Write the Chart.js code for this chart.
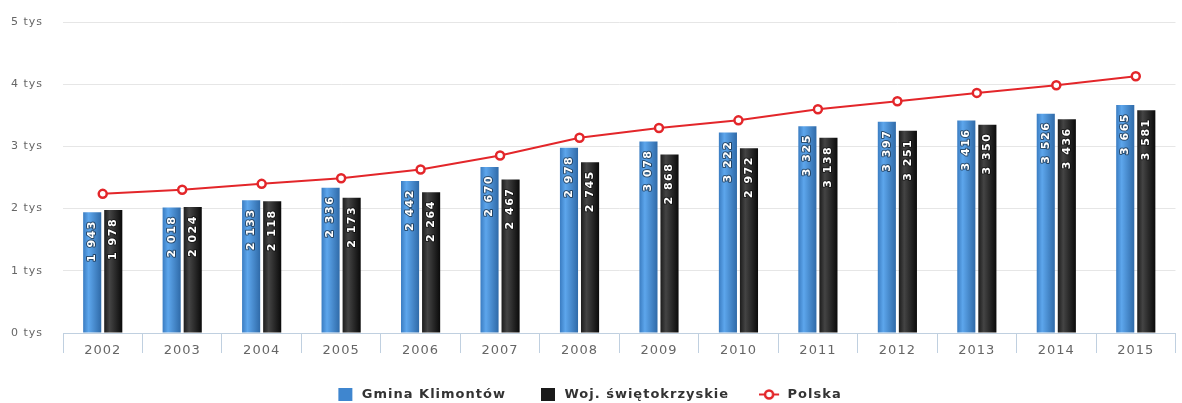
<!DOCTYPE html>
<html>
<head>
<meta charset="utf-8">
<script src="https://cdn.jsdelivr.net/npm/chart.js@4/dist/chart.umd.min.js"></script>
<style>
  html, body { margin: 0; padding: 0; background: #fff; }
  #wrap { width: 1182px; height: 403px; position: relative; }
</style>
</head>
<body>
<div id="wrap"><canvas id="chart"></canvas></div>
<script>
// DATA
const years = ["2002", "2003", "2004", "2005", "2006", "2007", "2008", "2009", "2010", "2011", "2012", "2013", "2014", "2015"];
const gminaKlimontow = [1943, 2018, 2133, 2336, 2442, 2670, 2978, 3078, 3222, 3325, 3397, 3416, 3526, 3665];
const wojSwietokrzyskie = [1978, 2024, 2118, 2173, 2264, 2467, 2745, 2868, 2972, 3138, 3251, 3350, 3436, 3581];
const polska = [2237, 2302, 2398, 2489, 2629, 2855, 3140, 3295, 3419, 3597, 3726, 3860, 3984, 4129];
const seriesNames = ["Gmina Klimontów", "Woj. świętokrzyskie", "Polska"];
const yTicks = [0, 1000, 2000, 3000, 4000, 5000];

const CAT_PCT = 0.53;
const BAR_PCT = 0.86;
const FONT = "'DejaVu Sans', sans-serif";

// bar colours: [edge, highlight, dark edge]
const blueStops = ["#3a7cc1", "#5da6ec", "#2f6aa8"];
const blackStops = ["#1c1c1c", "#444444", "#0a0a0a"];

function fmt(v) {
  return String(v).replace(/\B(?=(\d{3})+(?!\d))/g, " ");
}

// horizontal gradient for each bar, worked out from the category scale
function barFill(c, stops) {
  const chart = c.chart;
  const x = chart.scales.x;
  if (c.type !== "data" || !x || !chart.chartArea) return stops[0];
  const cw = x.width / years.length;
  const slot = cw * CAT_PCT / 2;
  const w = slot * BAR_PCT;
  const center = x.getPixelForValue(c.dataIndex) + (c.datasetIndex === 0 ? -slot / 2 : slot / 2);
  const g = chart.ctx.createLinearGradient(center - w / 2, 0, center + w / 2, 0);
  g.addColorStop(0, stops[0]);
  g.addColorStop(0.3, stops[1]);
  g.addColorStop(1, stops[2]);
  return g;
}

// legend symbols
function squareIcon(color) {
  const cv = document.createElement("canvas");
  cv.width = 20; cv.height = 13;
  const cx = cv.getContext("2d");
  cx.fillStyle = color;
  cx.fillRect(3, 0, 14, 13);
  return cv;
}
function lineIcon() {
  const cv = document.createElement("canvas");
  cv.width = 24; cv.height = 13;
  const cx = cv.getContext("2d");
  cx.strokeStyle = "#e3262a";
  cx.lineWidth = 2;
  cx.beginPath(); cx.moveTo(0, 6.5); cx.lineTo(20, 6.5); cx.stroke();
  cx.fillStyle = "#fff";
  cx.lineWidth = 2.5;
  cx.beginPath(); cx.arc(10, 6.5, 4, 0, Math.PI * 2); cx.fill(); cx.stroke();
  return cv;
}
const legendIcons = [squareIcon("#3f86cf"), squareIcon("#1a1a1a"), lineIcon()];

// text spacing like the original rendering
const spacingPlugin = {
  id: "spacing",
  beforeUpdate(chart) { chart.ctx.letterSpacing = "1px"; },
  beforeDraw(chart) { chart.ctx.letterSpacing = "1px"; },
};

// rotated value labels inside the bars
const barLabels = {
  id: "barLabels",
  afterDatasetsDraw(chart) {
    const ctx = chart.ctx;
    [0, 1].forEach((di) => {
      const meta = chart.getDatasetMeta(di);
      const vals = chart.data.datasets[di].data;
      meta.data.forEach((el, i) => {
        ctx.save();
        ctx.translate(el.x, el.y + 8);
        ctx.rotate(-Math.PI / 2);
        ctx.font = "bold 11px " + FONT;
        ctx.letterSpacing = "1.5px";
        ctx.textAlign = "right";
        ctx.textBaseline = "middle";
        ctx.lineWidth = 2;
        ctx.lineJoin = "round";
        ctx.strokeStyle = "rgba(0,0,0,0.5)";
        ctx.strokeText(fmt(vals[i]), 0, 0);
        ctx.fillStyle = "#ffffff";
        ctx.fillText(fmt(vals[i]), 0, 0);
        ctx.restore();
      });
    });
  },
};

new Chart(document.getElementById("chart"), {
  type: "bar",
  data: {
    labels: years,
    datasets: [
      {
        label: seriesNames[0],
        data: gminaKlimontow,
        backgroundColor: (c) => barFill(c, blueStops),
        categoryPercentage: CAT_PCT,
        barPercentage: BAR_PCT,
        order: 1,
      },
      {
        label: seriesNames[1],
        data: wojSwietokrzyskie,
        backgroundColor: (c) => barFill(c, blackStops),
        categoryPercentage: CAT_PCT,
        barPercentage: BAR_PCT,
        order: 1,
      },
      {
        type: "line",
        label: seriesNames[2],
        data: polska,
        borderColor: "#e3262a",
        borderWidth: 2,
        tension: 0,
        pointRadius: 4,
        pointBorderWidth: 2.5,
        pointBackgroundColor: "#ffffff",
        pointBorderColor: "#e3262a",
        order: 0,
      },
    ],
  },
  options: {
    responsive: true,
    maintainAspectRatio: false,
    animation: false,
    layout: {
      padding: { top: 22, right: 5, left: 0, bottom: -8 },
    },
    plugins: {
      tooltip: { enabled: false },
      legend: {
        position: "bottom",
        labels: {
          usePointStyle: true,
          pointStyleWidth: 20,
          padding: 32,
          color: "#333333",
          font: { family: FONT, size: 13, weight: "bold" },
          generateLabels: (chart) =>
            seriesNames.map((name, i) => ({
              text: name,
              datasetIndex: i,
              pointStyle: legendIcons[i],
              fillStyle: "#fff",
              strokeStyle: "#fff",
              lineWidth: 0,
              fontColor: "#333333",
              hidden: false,
            })),
        },
      },
    },
    scales: {
      x: {
        grid: {
          offset: true,
          drawOnChartArea: false,
          drawTicks: true,
          tickLength: 20,
          color: "#c0d0e0",
        },
        border: { color: "#c0d0e0", width: 1 },
        ticks: {
          color: "#666666",
          padding: -10,
          font: { family: FONT, size: 13 },
        },
        afterFit: (s) => { s.height = 23; },
      },
      y: {
        min: 0,
        max: 5000,
        afterBuildTicks: (s) => { s.ticks = yTicks.map((v) => ({ value: v })); },
        grid: { color: "#e6e6e6", drawTicks: false },
        border: { display: false },
        ticks: {
          color: "#666666",
          padding: 20,
          font: { family: FONT, size: 11 },
          callback: (v) => v / 1000 + " tys",
        },
        afterFit: (s) => { s.width = 63; s.paddingTop = 0; s.paddingBottom = 0; },
      },
    },
  },
  plugins: [spacingPlugin, barLabels],
});
</script>
</body>
</html>
